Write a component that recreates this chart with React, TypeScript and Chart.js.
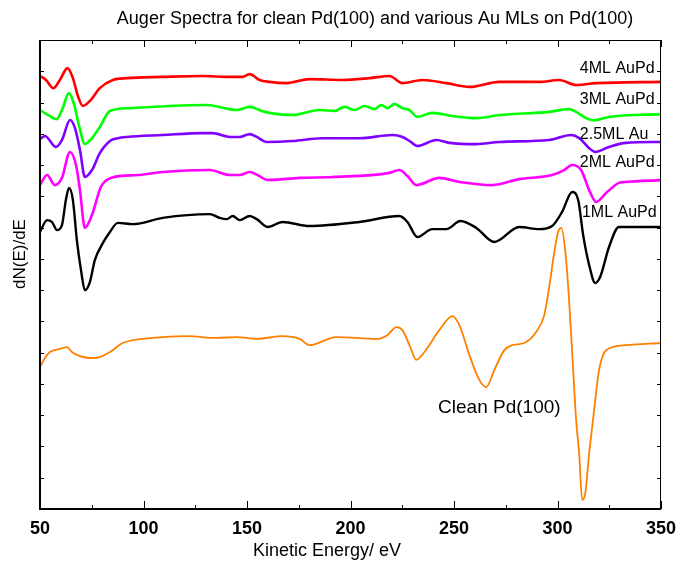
import React, { useEffect, useRef } from "react";
import { Chart, registerables } from "chart.js";

Chart.register(...registerables);

const FONT = "'Liberation Sans', Arial, sans-serif";

// Energies (eV) and dN(E)/dE values (offset, arbitrary units) per series
const energy4ML = [50, 52.9, 56.5, 59.6, 63.3, 65.9, 68.3, 70.7, 74.1, 78.9, 85.2, 92.0, 109.3, 128.6, 141.6, 147.9, 151.3, 156.1, 160.9, 169.1, 180.2, 196.1, 209.2, 218.8, 225.1, 234.7, 246.3, 257.4, 271.9, 291.2, 300.8, 309.0, 318.7, 350];
const values4ML = [13.85, 13.72, 13.46, 13.72, 14.10, 13.78, 13.21, 12.89, 13.05, 13.46, 13.72, 13.78, 13.82, 13.85, 13.82, 13.82, 13.91, 13.72, 13.66, 13.62, 13.75, 13.72, 13.78, 13.85, 13.62, 13.72, 13.62, 13.50, 13.66, 13.66, 13.72, 13.56, 13.62, 13.66];

const energy3ML = [50, 53.9, 58.0, 60.6, 64.0, 66.4, 68.8, 71.7, 75.1, 78.9, 83.8, 93.4, 112.7, 130.5, 145.0, 151.3, 157.1, 160.9, 172.0, 185.0, 192.3, 197.1, 201.9, 206.8, 211.6, 215.0, 217.8, 221.2, 225.1, 228.5, 232.3, 239.5, 249.2, 260.8, 271.9, 296.0, 305.6, 309.0, 313.8, 317.7, 324.9, 350];
const values3ML = [12.76, 12.60, 12.47, 12.76, 13.30, 12.95, 12.28, 11.67, 11.86, 12.22, 12.73, 12.82, 12.89, 12.92, 12.76, 12.86, 12.73, 12.67, 12.60, 12.76, 12.73, 12.86, 12.76, 12.89, 12.79, 12.92, 12.82, 12.95, 12.82, 12.76, 12.54, 12.67, 12.57, 12.50, 12.60, 12.70, 12.79, 12.70, 12.50, 12.43, 12.54, 12.63];

const energy25ML = [50, 52.4, 57.7, 60.6, 64.5, 66.9, 69.3, 71.7, 75.1, 78.9, 83.8, 87.6, 92.0, 109.3, 128.6, 133.4, 141.6, 146.5, 151.3, 154.7, 159.5, 172.0, 186.5, 204.3, 220.3, 225.1, 228.5, 232.3, 241.5, 247.8, 260.8, 271.9, 296.0, 306.6, 310.5, 315.3, 318.2, 324.9, 333.1, 350];
const values25ML = [11.83, 11.93, 11.58, 11.80, 12.44, 12.18, 11.48, 10.62, 10.84, 11.38, 11.77, 11.86, 11.90, 11.96, 12.02, 12.02, 11.90, 11.90, 11.99, 11.90, 11.74, 11.77, 11.86, 11.86, 11.96, 11.90, 11.77, 11.61, 11.80, 11.71, 11.67, 11.74, 11.80, 11.96, 11.86, 11.54, 11.42, 11.58, 11.71, 11.74];

const energy2ML = [50, 53.4, 57.2, 60.6, 64.5, 67.4, 69.3, 71.7, 75.1, 79.4, 84.2, 97.3, 109.3, 132.0, 141.6, 146.5, 151.3, 155.1, 160.0, 175.4, 191.3, 218.8, 223.6, 227.5, 231.8, 242.9, 252.6, 268.5, 281.5, 297.4, 303.2, 307.1, 311.4, 315.3, 318.7, 323.5, 329.7, 333.1, 350];
const values2ML = [10.36, 10.68, 10.36, 10.59, 11.42, 11.0, 10.20, 8.99, 9.40, 10.30, 10.59, 10.68, 10.78, 10.84, 10.68, 10.68, 10.78, 10.68, 10.52, 10.59, 10.62, 10.75, 10.84, 10.65, 10.36, 10.59, 10.46, 10.36, 10.55, 10.68, 10.84, 11.00, 10.84, 10.20, 9.82, 10.11, 10.43, 10.46, 10.52];

const energy1ML = [50, 53.4, 55.8, 58.2, 60.6, 62.5, 64.0, 65.9, 67.8, 69.8, 71.7, 74.1, 76.5, 80.4, 83.8, 87.6, 94.9, 109.3, 132.0, 136.8, 140.2, 143.1, 146.5, 151.3, 154.7, 160.0, 167.2, 180.2, 204.3, 223.6, 227.5, 232.3, 239.5, 246.3, 253.1, 260.8, 269.5, 281.5, 291.2, 297.4, 302.2, 307.1, 310.0, 312.4, 315.3, 318.2, 320.6, 324.9, 329.7, 350];
const values1ML = [8.86, 9.24, 9.18, 8.92, 9.08, 9.88, 10.27, 9.88, 8.60, 7.64, 7.00, 7.26, 7.96, 8.51, 8.86, 9.15, 9.11, 9.31, 9.43, 9.31, 9.27, 9.37, 9.24, 9.37, 9.27, 9.02, 9.18, 9.05, 9.18, 9.37, 9.18, 8.70, 8.95, 8.95, 9.21, 8.99, 8.54, 9.02, 8.95, 9.05, 9.50, 10.14, 9.88, 8.76, 7.80, 7.23, 7.42, 8.38, 9.02, 9.02];

const energyClean = [50, 52.4, 54.8, 59.6, 63.0, 65.4, 67.8, 74.1, 78.9, 83.8, 90.0, 104.5, 120.9, 135.4, 145.0, 154.7, 167.2, 175.4, 180.2, 193.2, 212.5, 217.8, 222.2, 225.1, 228.5, 231.8, 235.7, 242.9, 249.2, 252.6, 257.4, 262.2, 265.6, 269.5, 274.3, 278.1, 283.9, 289.7, 293.6, 296.0, 298.4, 300.3, 301.8, 303.7, 305.6, 307.1, 309.0, 310.5, 311.9, 313.3, 315.3, 317.7, 320.1, 323.5, 333.1, 350];
const valuesClean = [4.54, 4.83, 5.02, 5.12, 5.18, 5.02, 4.93, 4.83, 4.86, 5.02, 5.31, 5.47, 5.53, 5.47, 5.50, 5.44, 5.53, 5.44, 5.24, 5.50, 5.44, 5.56, 5.82, 5.72, 5.24, 4.77, 5.02, 5.72, 6.17, 5.88, 4.93, 4.13, 3.90, 4.45, 5.08, 5.24, 5.31, 5.66, 6.20, 7.10, 8.19, 8.86, 8.99, 8.28, 6.68, 4.99, 2.85, 1.73, 0.29, 0.45, 1.79, 3.17, 4.45, 5.08, 5.24, 5.31];

const seriesNames = ["Clean Pd(100)", "1ML AuPd", "2ML AuPd", "2.5ML Au", "3ML AuPd", "4ML AuPd"];
const seriesColors = ["#FF8000", "#000000", "#FF00FF", "#8000FF", "#00FF00", "#FF0000"];
const seriesEnergies = [energyClean, energy1ML, energy2ML, energy25ML, energy3ML, energy4ML];
const seriesValues = [valuesClean, values1ML, values2ML, values25ML, values3ML, values4ML];
const seriesWidths = [1.8, 2.4, 2.6, 2.6, 2.6, 2.6];

// Label anchors in data coordinates (energy, value)
const labelTexts = ["4ML AuPd", "3ML AuPd", "2.5ML Au", "2ML AuPd", "1ML AuPd"];
const labelEnergies = [310.8, 310.8, 310.8, 310.8, 311.8];
const labelValues = [14.07, 13.11, 11.99, 11.07, 9.47];

const xMajorTicks = [50, 100, 150, 200, 250, 300, 350];
const xMinorTicks = [75, 125, 175, 225, 275, 325];
const yTicks = [1, 2, 3, 4, 5, 6, 7, 8, 9, 10, 11, 12, 13, 14];

const framePlugin = {
  id: "frameTicks",
  afterDatasetsDraw(chart: any) {
    const { ctx, chartArea, scales } = chart;
    const { left, right, top, bottom } = chartArea;
    const x = scales.x;
    const y = scales.y;
    ctx.save();
    ctx.strokeStyle = "#000";
    ctx.lineWidth = 1;
    const seg = (x1: number, y1: number, x2: number, y2: number) => {
      ctx.beginPath();
      ctx.moveTo(x1, y1);
      ctx.lineTo(x2, y2);
      ctx.stroke();
    };
    xMajorTicks.forEach((v) => {
      const px = Math.round(x.getPixelForValue(v)) + 0.5;
      seg(px, bottom, px, bottom - 8);
      seg(px, top, px, top + 7);
    });
    xMinorTicks.forEach((v) => {
      const px = Math.round(x.getPixelForValue(v)) + 0.5;
      seg(px, bottom, px, bottom - 4);
      seg(px, top, px, top + 4);
    });
    yTicks.forEach((v) => {
      const py = Math.round(y.getPixelForValue(v)) + 0.5;
      seg(left, py, left + 4, py);
      seg(right, py, right - 4, py);
    });
    ctx.lineWidth = 1;
    seg(left, top + 0.5, right, top + 0.5);
    seg(right - 0.5, top, right - 0.5, bottom);
    ctx.lineWidth = 2;
    seg(left, top, left, bottom + 1);
    seg(left - 1, bottom, right, bottom);
    ctx.restore();
  },
};

const textPlugin = {
  id: "texts",
  afterDraw(chart: any) {
    const { ctx, scales } = chart;
    const x = scales.x;
    const y = scales.y;
    ctx.save();
    ctx.fillStyle = "#000";
    ctx.textBaseline = "middle";
    ctx.textAlign = "center";
    ctx.font = `18px ${FONT}`;
    ctx.fillText("Auger Spectra for clean Pd(100) and various Au MLs on Pd(100)", 375, 19);
    ctx.font = `18px ${FONT}`;
    ctx.fillText("Kinetic Energy/ eV", 327, 551);
    ctx.save();
    ctx.translate(20, 254);
    ctx.rotate(-Math.PI / 2);
    ctx.font = `17px ${FONT}`;
    ctx.fillText("dN(E)/dE", 0, 0);
    ctx.restore();
    ctx.textAlign = "left";
    ctx.font = `16px ${FONT}`;
    labelTexts.forEach((t, i) => {
      ctx.fillText(t, x.getPixelForValue(labelEnergies[i]), y.getPixelForValue(labelValues[i]));
    });
    ctx.textAlign = "center";
    ctx.font = `19px ${FONT}`;
    ctx.fillText("Clean Pd(100)", x.getPixelForValue(271.9), y.getPixelForValue(3.23));
    ctx.restore();
  },
};

export default function App() {
  const ref = useRef<HTMLCanvasElement>(null);
  useEffect(() => {
    if (!ref.current) return;
    const datasets = seriesNames.map((name, i) => ({
      label: name,
      data: seriesEnergies[i].map((e, j) => ({ x: e, y: seriesValues[i][j] })),
      borderColor: seriesColors[i],
      backgroundColor: seriesColors[i],
      borderWidth: seriesWidths[i],
      borderCapStyle: "round" as const,
      borderJoinStyle: "round" as const,
      pointRadius: 0,
      fill: false,
      cubicInterpolationMode: "monotone" as const,
    }));
    const chart = new Chart(ref.current, {
      type: "line",
      data: { datasets },
      options: {
        responsive: false,
        animation: false,
        layout: { padding: { top: 40, right: 17, left: 0, bottom: 0 } },
        plugins: {
          legend: { display: false },
          title: { display: false },
          tooltip: { enabled: false },
        },
        scales: {
          x: {
            type: "linear",
            min: 50,
            max: 350,
            afterFit: (s: any) => {
              s.height = 58;
              s.paddingLeft = 0;
              s.paddingRight = 0;
            },
            grid: { display: false, drawTicks: false },
            border: { display: false },
            ticks: {
              stepSize: 50,
              autoSkip: false,
              maxRotation: 0,
              padding: 9,
              color: "#000",
              font: { family: FONT, size: 18, weight: "bold" },
            },
          },
          y: {
            type: "linear",
            min: 0,
            max: 15,
            afterFit: (s: any) => {
              s.width = 40;
            },
            grid: { display: false, drawTicks: false },
            border: { display: false },
            ticks: { display: false, stepSize: 1 },
          },
        },
      },
      plugins: [framePlugin, textPlugin],
    });
    return () => chart.destroy();
  }, []);
  return (
    <div style={{ position: "absolute", left: 0, top: 0, width: 678, height: 567, background: "#fff" }}>
      <canvas ref={ref} width={678} height={567} style={{ display: "block" }} />
    </div>
  );
}
